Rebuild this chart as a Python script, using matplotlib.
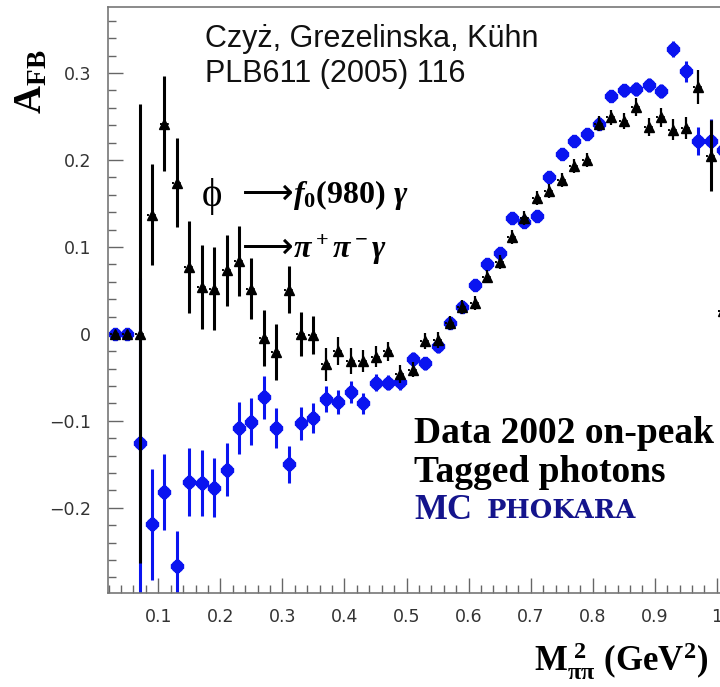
import matplotlib
matplotlib.use("Agg")
import matplotlib.pyplot as plt
import numpy as np

plt.rcParams['mathtext.fontset'] = 'custom'
plt.rcParams['mathtext.rm'] = 'Liberation Serif:bold'
plt.rcParams['mathtext.it'] = 'Liberation Serif:bold:italic'
plt.rcParams['mathtext.bf'] = 'Liberation Serif:bold'

# bin centres (GeV^2)
x_bins = [0.03, 0.05, 0.07, 0.09, 0.11, 0.13, 0.15, 0.17, 0.19, 0.21,
          0.23, 0.25, 0.27, 0.29, 0.31, 0.33, 0.35, 0.37, 0.39, 0.41,
          0.43, 0.45, 0.47, 0.49, 0.51, 0.53, 0.55, 0.57, 0.59, 0.61,
          0.63, 0.65, 0.67, 0.69, 0.71, 0.73, 0.75, 0.77, 0.79, 0.81,
          0.83, 0.85, 0.87, 0.89, 0.91, 0.93, 0.95, 0.97, 0.99, 1.01]

# Data 2002 on-peak (black triangles)
data_afb = [0.0, 0.0, 0.0, 0.137, 0.242, 0.174, 0.077, 0.054, 0.052, 0.073,
            0.084, 0.052, -0.005, -0.021, 0.051, 0.000, -0.001, -0.035, -0.020, -0.031,
            -0.031, -0.026, -0.020, -0.046, -0.041, -0.008, -0.007, 0.013, 0.031, 0.036,
            0.066, 0.083, 0.111, 0.133, 0.156, 0.164, 0.177, 0.193, 0.200, 0.242,
            0.249, 0.245, 0.261, 0.238, 0.249, 0.235, 0.237, 0.284, 0.205, 0.026]
data_err = [0.0, 0.0, 0.264, 0.058, 0.055, 0.051, 0.053, 0.048, 0.048, 0.041,
            0.040, 0.035, 0.032, 0.032, 0.027, 0.025, 0.022, 0.019, 0.016, 0.015,
            0.013, 0.012, 0.011, 0.010, 0.009, 0.009, 0.009, 0.008, 0.008, 0.008,
            0.008, 0.008, 0.008, 0.008, 0.008, 0.008, 0.008, 0.008, 0.008, 0.009,
            0.009, 0.009, 0.010, 0.010, 0.011, 0.012, 0.013, 0.019, 0.041, 0.030]

# MC PHOKARA (blue)
mc_afb = [0.0, 0.0, -0.126, -0.219, -0.182, -0.267, -0.170, -0.172, -0.177, -0.156,
          -0.108, -0.101, -0.073, -0.108, -0.150, -0.103, -0.097, -0.075, -0.078, -0.067,
          -0.080, -0.056, -0.056, -0.055, -0.029, -0.034, -0.014, 0.013, 0.031, 0.056,
          0.080, 0.093, 0.133, 0.129, 0.136, 0.180, 0.207, 0.222, 0.230, 0.242,
          0.274, 0.280, 0.282, 0.286, 0.279, 0.328, 0.302, 0.222, 0.222, 0.212]
mc_err = [0.0, 0.0, 0.19, 0.064, 0.044, 0.040, 0.039, 0.038, 0.034, 0.031,
          0.030, 0.027, 0.025, 0.023, 0.021, 0.019, 0.017, 0.015, 0.014, 0.013,
          0.012, 0.010, 0.009, 0.009, 0.008, 0.008, 0.008, 0.007, 0.007, 0.007,
          0.007, 0.007, 0.007, 0.007, 0.007, 0.007, 0.007, 0.007, 0.007, 0.007,
          0.007, 0.007, 0.008, 0.008, 0.008, 0.009, 0.012, 0.016, 0.025, 0.020]

x_ticks = [0.1, 0.2, 0.3, 0.4, 0.5, 0.6, 0.7, 0.8, 0.9, 1.0]
x_ticklabels = ["0.1", "0.2", "0.3", "0.4", "0.5", "0.6", "0.7", "0.8", "0.9", "1"]
y_ticks = [-0.2, -0.1, 0.0, 0.1, 0.2, 0.3]
y_ticklabels = ["\u22120.2", "\u22120.1", "0", "0.1", "0.2", "0.3"]

W, H = 720, 687
fig = plt.figure(figsize=(W / 100, H / 100), dpi=100)
ax = fig.add_axes([108 / W, 1 - 593 / H, 1 - 108 / W, (593 - 7) / H])
ax.set_xlim(0.019, 1.005)
ax.set_ylim(-0.298, 0.376)

xb = np.array(x_bins)
blue = '#0a14f0'
ax.errorbar(xb, mc_afb, yerr=mc_err, fmt='P', color=blue, ms=9.0, mew=1.0,
            mec=blue, elinewidth=2.2, capsize=0, zorder=2)
ax.plot(xb, mc_afb, 'o', color=blue, ms=8.0, zorder=2.1)

# dotted horizontal marks around the triangles
dx = ax.errorbar(xb, data_afb, xerr=0.008, fmt='none', ecolor='black',
                 elinewidth=1.4, capsize=0, zorder=3)
for lc in dx.lines[2]:
    lc.set_linestyle((0, (1, 2.5)))
err_w = [2.2 if e > 0.02 else 1.6 for e in data_err]
ax.errorbar(xb, data_afb, yerr=data_err, fmt='none', ecolor='black',
            elinewidth=err_w, capsize=0, zorder=3.2)
ax.plot(xb, data_afb, '^', color='black', ms=7, zorder=3.5)

# axes styling
ax.spines['right'].set_visible(False)
for s in ['left', 'top', 'bottom']:
    ax.spines[s].set_color('#777777')
    ax.spines[s].set_linewidth(1.2)

ax.set_xticks(x_ticks)
ax.set_xticklabels(x_ticklabels)
ax.set_xticks(np.arange(0.02, 1.005, 0.02), minor=True)
ax.set_yticks(y_ticks)
ax.set_yticklabels(y_ticklabels)
ax.set_yticks(np.arange(-0.28, 0.37, 0.02), minor=True)
ax.tick_params(which='both', direction='in', color='#666666', width=1.0,
               top=False, right=False)
ax.tick_params(which='major', length=11)
ax.tick_params(which='minor', length=6)
ax.tick_params(axis='x', which='major', pad=11, labelsize=12.5, labelcolor='#333333')
ax.tick_params(axis='y', which='major', pad=12, labelsize=12.5, labelcolor='#333333')
for lab in ax.get_xticklabels() + ax.get_yticklabels():
    lab.set_family('DejaVu Sans')

def fx(px):
    return px / W

def fy(py):
    return 1 - py / H

sans = ['Liberation Sans', 'DejaVu Sans']
serif = ['Liberation Serif', 'DejaVu Serif']

fig.text(fx(205), fy(47), "Czyż, Grezelinska, Kühn", family=sans, fontsize=22,
         color='#111111', va='baseline', ha='left')
fig.text(fx(205), fy(82), "PLB611 (2005) 116", family=sans, fontsize=22,
         color='#111111', va='baseline', ha='left')

fig.text(fx(202), fy(206), "\u03d5", family=serif, fontsize=28, va='baseline', ha='left')
fig.text(fx(242), fy(204), "\u27f6", family=['DejaVu Sans'], fontsize=26,
         va='baseline', ha='left')
fig.text(fx(293), fy(203), r"$\mathit{f_0(980)}\ \mathit{\gamma}$",
         fontsize=23, va='baseline', ha='left')
fig.text(fx(242), fy(258), "\u27f6", family=['DejaVu Sans'], fontsize=26,
         va='baseline', ha='left')
fig.text(fx(293), fy(258), r"$\mathit{\pi^+\pi^-\gamma}$",
         fontsize=23, va='baseline', ha='left')

fig.text(fx(414), fy(443), "Data 2002 on-peak", family=serif, fontweight='bold',
         fontsize=27, va='baseline', ha='left')
fig.text(fx(414), fy(482), "Tagged photons", family=serif, fontweight='bold',
         fontsize=27, va='baseline', ha='left')
navy = '#14148c'
fig.text(fx(414), fy(519), "MC", family=serif, fontweight='bold',
         fontsize=25, va='baseline', ha='left', color=navy)
fig.text(fx(487), fy(518), "PHOKARA", family=['DejaVu Serif'], fontweight='bold',
         fontsize=18.5, va='baseline', ha='left', color=navy)

fig.text(fx(30), fy(82), r"$\mathrm{A_{FB}}$", fontsize=28, rotation=90,
         va='center', ha='center')
fig.text(fx(708), fy(672), r"$\mathrm{M_{\pi\pi}^{\ 2}\ (GeV^2)}$", fontsize=25,
         va='baseline', ha='right')

fig.savefig("out.png", dpi=100)
